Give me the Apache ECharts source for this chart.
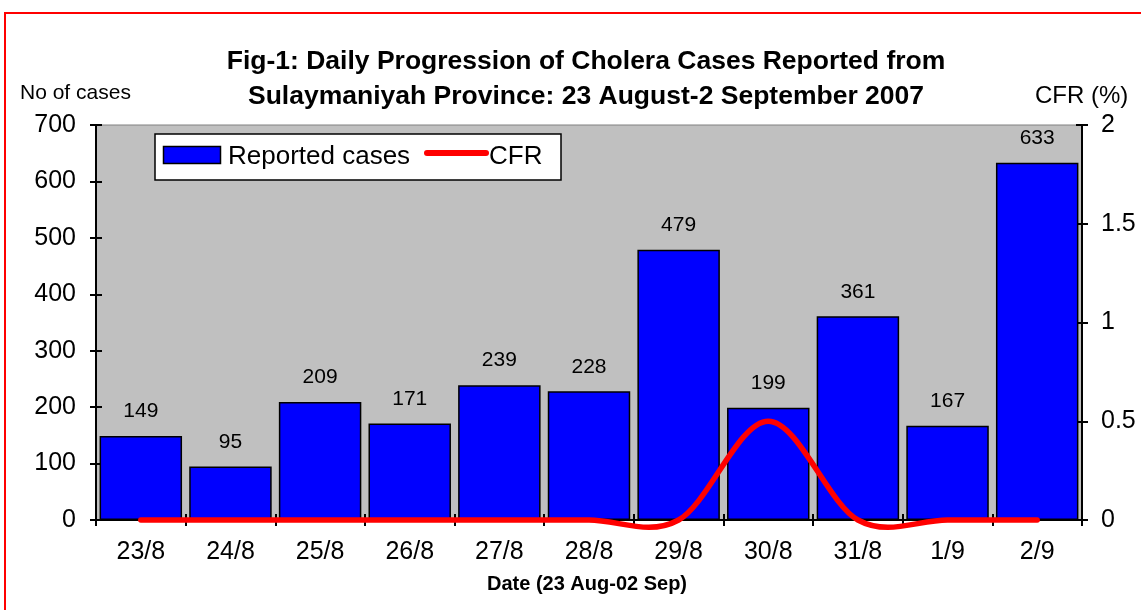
<!DOCTYPE html>
<html><head><meta charset="utf-8">
<script src="https://cdn.jsdelivr.net/npm/echarts@6/dist/echarts.min.js"></script>
<style>html,body{margin:0;padding:0;background:#fff}#c{width:1141px;height:610px}</style>
</head><body><div id="c"></div>
<script>
const categories = ['23/8','24/8','25/8','26/8','27/8','28/8','29/8','30/8','31/8','1/9','2/9'];
const reportedCases = [149, 95, 209, 171, 239, 228, 479, 199, 361, 167, 633];
const cfr = [0, 0, 0, 0, 0, 0, 0, 0.5, 0, 0, 0];
const leftTicks = {min: 0, max: 700, interval: 100};
const rightTicks = {min: 0, max: 2, interval: 0.5};

const F = 'Liberation Sans, Arial, sans-serif';
const chart = echarts.init(document.getElementById('c'));
const tickStyle = {color: '#000', width: 2};

// Excel-like smoothed line (Catmull-Rom through the data points, mapped by the axes)
function renderCfr(params, api) {
  if (params.dataIndex !== 0) return null;
  const pts = cfr.map((v, i) => api.coord([i, v]));
  let d = 'M' + pts[0][0] + ',' + pts[0][1];
  for (let i = 0; i < pts.length - 1; i++) {
    const p0 = pts[Math.max(i - 1, 0)], p1 = pts[i], p2 = pts[i + 1], p3 = pts[Math.min(i + 2, pts.length - 1)];
    const c1 = [p1[0] + (p2[0] - p0[0]) / 6, p1[1] + (p2[1] - p0[1]) / 6];
    const c2 = [p2[0] - (p3[0] - p1[0]) / 6, p2[1] - (p3[1] - p1[1]) / 6];
    d += ' C' + c1[0] + ',' + c1[1] + ' ' + c2[0] + ',' + c2[1] + ' ' + p2[0] + ',' + p2[1];
  }
  return {type: 'path', shape: {pathData: d}, style: {fill: 'none', stroke: '#FF0000', lineWidth: 5.5, lineCap: 'round', lineJoin: 'round'}};
}

chart.setOption({
  animation: false,
  backgroundColor: '#fff',
  textStyle: {fontFamily: F},
  title: {
    text: 'Fig-1: Daily Progression of Cholera Cases Reported from\nSulaymaniyah Province: 23 August-2 September 2007',
    left: 581, top: 39, textAlign: 'center',
    textStyle: {fontFamily: F, fontSize: 26.5, fontWeight: 'bold', color: '#000', lineHeight: 35}
  },
  graphic: [
    {type: 'rect', shape: {x: 5, y: 13, width: 1200, height: 700}, style: {fill: 'none', stroke: '#ff0000', lineWidth: 2}, silent: true, z: 100},
    {type: 'text', left: 20, top: 83, style: {text: 'No of cases', font: '21px ' + F, fill: '#000'}},
    {type: 'text', left: 1035, top: 84, style: {text: 'CFR (%)', font: '24px ' + F, fill: '#000'}},
    {type: 'text', x: 587, y: 584, style: {text: 'Date (23 Aug-02 Sep)', font: 'bold 20px ' + F, fill: '#000', align: 'center', verticalAlign: 'middle'}},
    // legend box
    {type: 'group', z: 50, children: [
      {type: 'rect', shape: {x: 155, y: 134, width: 406, height: 46}, style: {fill: '#fff', stroke: '#000', lineWidth: 1.5}},
      {type: 'rect', shape: {x: 163.5, y: 146.5, width: 57, height: 17}, style: {fill: '#0000FF', stroke: '#000', lineWidth: 1.5}},
      {type: 'text', x: 228, y: 157, style: {text: 'Reported cases', font: '26px ' + F, fill: '#000', verticalAlign: 'middle'}},
      {type: 'line', shape: {x1: 427, y1: 153, x2: 486, y2: 153}, style: {stroke: '#FF0000', lineWidth: 6, lineCap: 'round'}},
      {type: 'text', x: 489, y: 157, style: {text: 'CFR', font: '26px ' + F, fill: '#000', verticalAlign: 'middle'}}
    ]}
  ],
  grid: {show: true, left: 96, right: 59, top: 125, bottom: 90, backgroundColor: '#C0C0C0', borderColor: '#808080', borderWidth: 1},
  xAxis: [
    {type: 'category', data: categories, boundaryGap: true,
     axisLine: {lineStyle: {color: '#000', width: 2}},
     axisTick: {show: true, length: 6, lineStyle: tickStyle},
     axisLabel: {fontSize: 25, color: '#000', margin: 20, fontFamily: F}},
    {type: 'category', data: categories, position: 'bottom', boundaryGap: true,
     axisLine: {show: false}, axisLabel: {show: false},
     axisTick: {show: true, inside: true, length: 6, lineStyle: tickStyle}}
  ],
  yAxis: [
    Object.assign({type: 'value', position: 'left',
     axisLine: {show: true, lineStyle: {color: '#000', width: 2}},
     axisTick: {show: true, length: 6, lineStyle: tickStyle},
     splitLine: {show: false},
     axisLabel: {fontSize: 25, color: '#000', margin: 20, fontFamily: F}}, leftTicks),
    Object.assign({type: 'value', position: 'right',
     axisLine: {show: true, lineStyle: {color: '#000', width: 2}},
     axisTick: {show: true, length: 6, lineStyle: tickStyle},
     splitLine: {show: false},
     axisLabel: {fontSize: 25, color: '#000', margin: 19, fontFamily: F}}, rightTicks),
    Object.assign({type: 'value', position: 'left', axisLine: {show: false}, axisLabel: {show: false}, splitLine: {show: false},
     axisTick: {show: true, inside: true, length: 6, lineStyle: tickStyle}}, leftTicks),
    Object.assign({type: 'value', position: 'right', axisLine: {show: false}, axisLabel: {show: false}, splitLine: {show: false},
     axisTick: {show: true, inside: true, length: 6, lineStyle: tickStyle}}, rightTicks)
  ],
  series: [
    {name: 'Reported cases', type: 'bar', data: reportedCases, xAxisIndex: 0, yAxisIndex: 0,
     barCategoryGap: '8%',
     itemStyle: {color: '#0000FF', borderColor: '#000', borderWidth: 1.5},
     label: {show: true, position: 'top', distance: 14, fontSize: 21, color: '#000', fontFamily: F}},
    {name: 'CFR', type: 'custom', data: cfr.map((v, i) => [i, v]), xAxisIndex: 0, yAxisIndex: 1,
     encode: {x: 0, y: 1}, z: 5, clip: false, renderItem: renderCfr}
  ]
});
</script></body></html>
